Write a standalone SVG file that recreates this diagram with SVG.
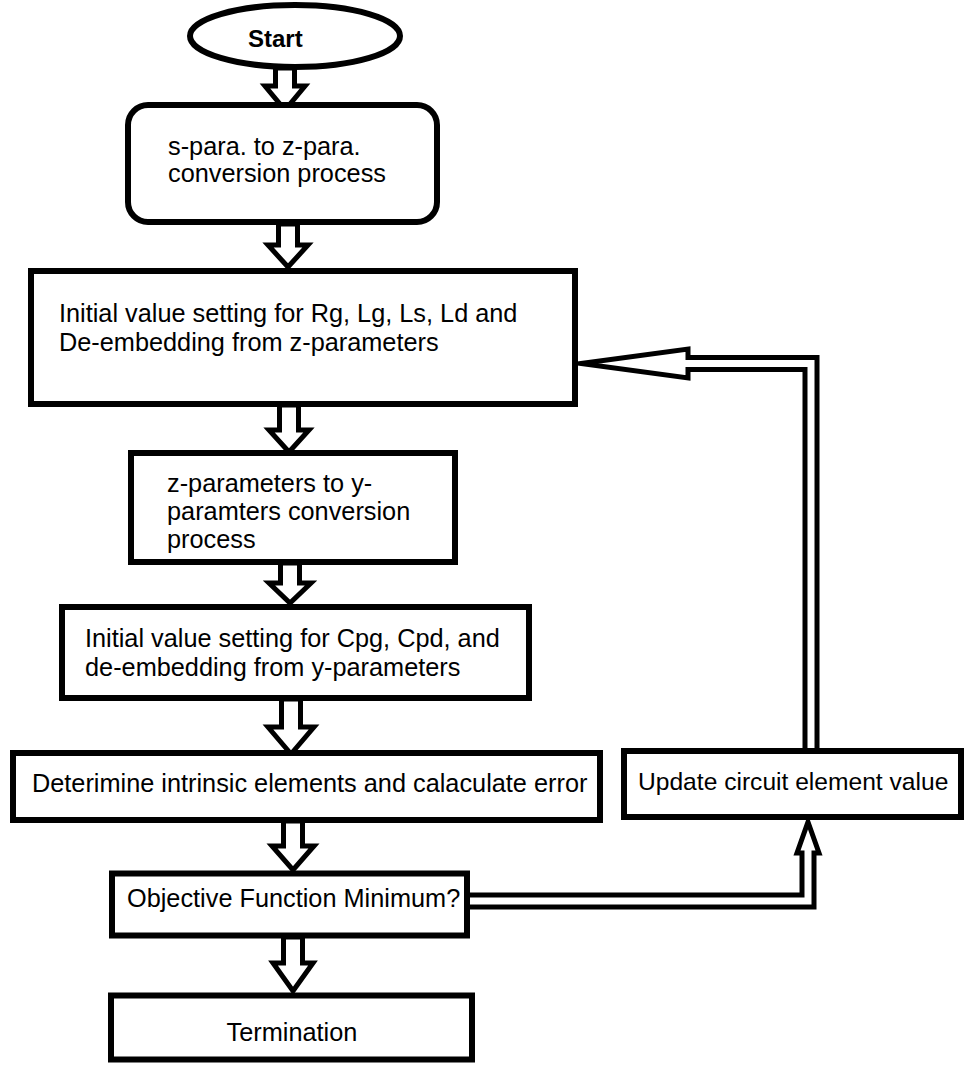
<svg xmlns="http://www.w3.org/2000/svg" width="964" height="1069" viewBox="0 0 964 1069">
<style>
.box{fill:#fff;stroke:#000;stroke-width:6}
.t{font-family:"Liberation Sans",Arial,sans-serif;font-size:25.3px;fill:#000}
.blk{fill:#fff;stroke:#000;stroke-width:5;stroke-linejoin:miter;stroke-miterlimit:10}
.pipe{fill:none;stroke:#000;stroke-width:17;stroke-linejoin:miter}
.pipein{fill:none;stroke:#fff;stroke-width:7;stroke-linejoin:miter}
</style>
<rect width="964" height="1069" fill="#fff"/>
<g id="connectors">
<polygon class="blk" points="275.5,68 294.5,68 294.5,86 305,86 285,110 265,86 275.5,86"/>
<polygon class="blk" points="278.5,224 297.5,224 297.5,245 308,245 288,267 268,245 278.5,245"/>
<polygon class="blk" points="279.5,405 298.5,405 298.5,430 309,430 289,452 269,430 279.5,430"/>
<polygon class="blk" points="280.5,563 299.5,563 299.5,583 311,583 290,603 269,583 280.5,583"/>
<polygon class="blk" points="281.5,699 300.5,699 300.5,727 314,727 291,754 268,727 281.5,727"/>
<polygon class="blk" points="283.5,821 302.5,821 302.5,846 314,846 293,870 272,846 283.5,846"/>
<polygon class="blk" points="283.5,937 302.5,937 302.5,963 313,963 293,991 273,963 283.5,963"/>
<path class="pipe" d="M467,901 H808 V853"/>
<polygon class="blk" points="808,822 819,853 797,853"/>
<path class="pipein" d="M470,901 H808 V848"/>
<path class="pipe" d="M811,751 V363.5 H688"/>
<polygon class="blk" points="581,363.5 688,349 688,378"/>
<path class="pipein" d="M811,748 V363.5 H682"/>
</g>
<g id="start">
<ellipse cx="295" cy="36" rx="105" ry="31" fill="#fff" stroke="#000" stroke-width="6"/>
<text x="248" y="47" class="t" style="font-weight:bold;font-size:24px">Start</text>
</g>
<g id="n1">
<rect class="box" x="128" y="105" width="309" height="117" rx="20"/>
<text class="t" x="168" y="155">s-para. to z-para.</text>
<text class="t" x="168" y="182">conversion process</text>
</g>
<g id="n2">
<rect class="box" x="31" y="271" width="544" height="133"/>
<text class="t" x="59" y="322">Initial value setting for Rg, Lg, Ls, Ld and</text>
<text class="t" x="59" y="351">De-embedding from z-parameters</text>
</g>
<g id="n3">
<rect class="box" x="131" y="453" width="324" height="109"/>
<text class="t" x="167" y="492">z-parameters to y-</text>
<text class="t" x="167" y="520">paramters conversion</text>
<text class="t" x="167" y="548">process</text>
</g>
<g id="n4">
<rect class="box" x="62" y="607" width="467" height="91"/>
<text class="t" x="85" y="647">Initial value setting for Cpg, Cpd, and</text>
<text class="t" x="85" y="676">de-embedding from y-parameters</text>
</g>
<g id="n5">
<rect class="box" x="13" y="753" width="587" height="67"/>
<text class="t" x="32" y="792">Deterimine intrinsic elements and calaculate error</text>
</g>
<g id="n6">
<rect class="box" x="624" y="751" width="337" height="66"/>
<text class="t" x="638" y="790" style="font-size:24.6px">Update circuit element value</text>
</g>
<g id="n7">
<rect class="box" x="112" y="873.5" width="355" height="62"/>
<text class="t" x="127" y="907">Objective Function Minimum?</text>
</g>
<g id="n8">
<rect class="box" x="111" y="995.5" width="361" height="64"/>
<text class="t" x="292" y="1041" text-anchor="middle">Termination</text>
</g>
</svg>
